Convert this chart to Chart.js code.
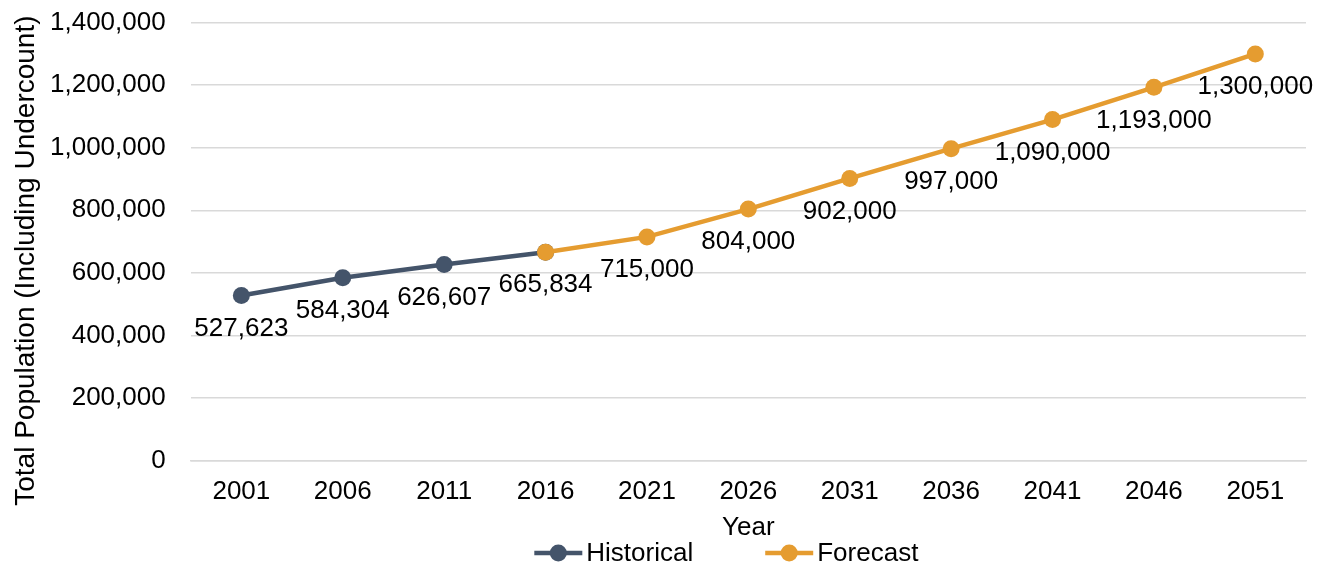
<!DOCTYPE html>
<html>
<head>
<meta charset="utf-8">
<script src="https://cdn.jsdelivr.net/npm/chart.js@4.4.0/dist/chart.umd.min.js"></script>
<style>
  html, body { margin: 0; padding: 0; background: #fff; }
  #wrap { width: 1328px; height: 567px; }
</style>
</head>
<body>
<div id="wrap"><canvas id="popChart" width="1328" height="567"></canvas></div>
<script>
// Dữ liệu biểu đồ
const years = ['2001', '2006', '2011', '2016', '2021', '2026', '2031', '2036', '2041', '2046', '2051'];
const historical = [527623, 584304, 626607, 665834, null, null, null, null, null, null, null];
const forecast = [null, null, null, 665834, 715000, 804000, 902000, 997000, 1090000, 1193000, 1300000];
const yTicks = [0, 200000, 400000, 600000, 800000, 1000000, 1200000, 1400000];
const seriesNames = ['Historical', 'Forecast'];
const yTitle = 'Total Population (Including Undercount)';

const histColor = '#44546A';
const foreColor = '#E59C30';
const fontFamily = '"Liberation Sans", Arial, sans-serif';

Chart.defaults.font.family = fontFamily;
Chart.defaults.color = '#000';

const fmt = v => v.toLocaleString('en-US');

// Plugin vẽ nhãn giá trị dưới mỗi điểm
const valueLabels = {
    id: 'valueLabels',
    afterDatasetsDraw(chart) {
        const ctx = chart.ctx;
        ctx.save();
        ctx.font = '26px ' + fontFamily;
        ctx.fillStyle = '#000';
        ctx.textAlign = 'center';
        ctx.textBaseline = 'middle';
        chart.data.datasets.forEach((ds, di) => {
            const meta = chart.getDatasetMeta(di);
            meta.data.forEach((pt, i) => {
                const v = ds.data[i];
                if (v == null) return;
                if (di === 1 && historical[i] != null) return; // tránh trùng nhãn 2016
                ctx.fillText(fmt(v), pt.x, pt.y + 33);
            });
        });
        ctx.restore();
    }
};

// Plugin vẽ tiêu đề trục Y (lệch xuống một chút như bản gốc)
const yAxisTitle = {
    id: 'yAxisTitle',
    afterDraw(chart) {
        const ctx = chart.ctx;
        const area = chart.chartArea;
        ctx.save();
        ctx.translate(chart.scales.y.left + 15, (area.top + area.bottom) / 2 + 19);
        ctx.rotate(-Math.PI / 2);
        ctx.font = '28px ' + fontFamily;
        ctx.fillStyle = '#000';
        ctx.textAlign = 'center';
        ctx.textBaseline = 'middle';
        ctx.fillText(yTitle, 0, 0);
        ctx.restore();
    }
};

// Plugin vẽ chú giải (đường + chấm tròn) ở dưới cùng
const bottomLegend = {
    id: 'bottomLegend',
    afterDraw(chart) {
        const ctx = chart.ctx;
        const area = chart.chartArea;
        const y = chart.height - 14;
        ctx.save();
        ctx.font = '26px ' + fontFamily;
        ctx.textBaseline = 'middle';
        ctx.textAlign = 'left';
        const markerW = 48, gapText = 4, gapItem = 72;
        const widths = chart.data.datasets.map(ds => markerW + gapText + ctx.measureText(ds.label).width);
        const total = widths.reduce((a, b) => a + b, 0) + gapItem * (widths.length - 1);
        let x = (area.left + area.right) / 2 - 22 - total / 2;
        chart.data.datasets.forEach((ds, i) => {
            ctx.strokeStyle = ds.borderColor;
            ctx.fillStyle = ds.borderColor;
            ctx.lineWidth = 4.5;
            ctx.beginPath(); ctx.moveTo(x, y); ctx.lineTo(x + markerW, y); ctx.stroke();
            ctx.beginPath(); ctx.arc(x + markerW / 2, y, 8.5, 0, Math.PI * 2); ctx.fill();
            ctx.fillStyle = '#000';
            ctx.fillText(ds.label, x + markerW + gapText, y + 1);
            x += widths[i] + gapItem;
        });
        ctx.restore();
    }
};

new Chart(document.getElementById('popChart'), {
    type: 'line',
    data: {
        labels: years,
        datasets: [{
            label: seriesNames[0],
            data: historical,
            borderColor: histColor,
            backgroundColor: histColor,
            borderWidth: 4.5,
            pointRadius: 8.5,
            pointHoverRadius: 8.5,
            pointBackgroundColor: histColor,
            pointBorderWidth: 0,
            order: 2
        }, {
            label: seriesNames[1],
            data: forecast,
            borderColor: foreColor,
            backgroundColor: foreColor,
            borderWidth: 4.5,
            pointRadius: 8.5,
            pointHoverRadius: 8.5,
            pointBackgroundColor: foreColor,
            pointBorderWidth: 0,
            order: 1
        }]
    },
    options: {
        responsive: false,
        animation: false,
        layout: { padding: { top: 0, right: 22, left: 11, bottom: 24 } },
        scales: {
            x: {
                offset: true,
                // khoảng trống dưới trục bằng tickLength (vạch trong suốt)
                grid: { display: false, drawTicks: true, tickLength: 14, tickColor: 'rgba(0,0,0,0)' },
                border: { display: true, color: '#d9d9d9', width: 1.5 },
                ticks: { font: { size: 26 }, padding: 2 },
                title: { display: true, text: 'Year', font: { size: 26 }, padding: { top: 2, bottom: 0 } }
            },
            y: {
                min: 0,
                max: 1400000,
                afterBuildTicks: axis => { axis.ticks = yTicks.map(v => ({ value: v })); },
                afterFit: axis => { axis.width += 32; }, // chừa chỗ cho tiêu đề trục
                grid: { color: '#d9d9d9', lineWidth: 1.5, drawTicks: true, tickLength: 18, tickColor: 'rgba(0,0,0,0)' },
                border: { display: false },
                ticks: { font: { size: 26 }, padding: 7, callback: v => fmt(v) },
                title: { display: false }
            }
        },
        plugins: {
            legend: { display: false },
            tooltip: { enabled: false }
        }
    },
    plugins: [valueLabels, yAxisTitle, bottomLegend]
});
</script>
</body>
</html>
